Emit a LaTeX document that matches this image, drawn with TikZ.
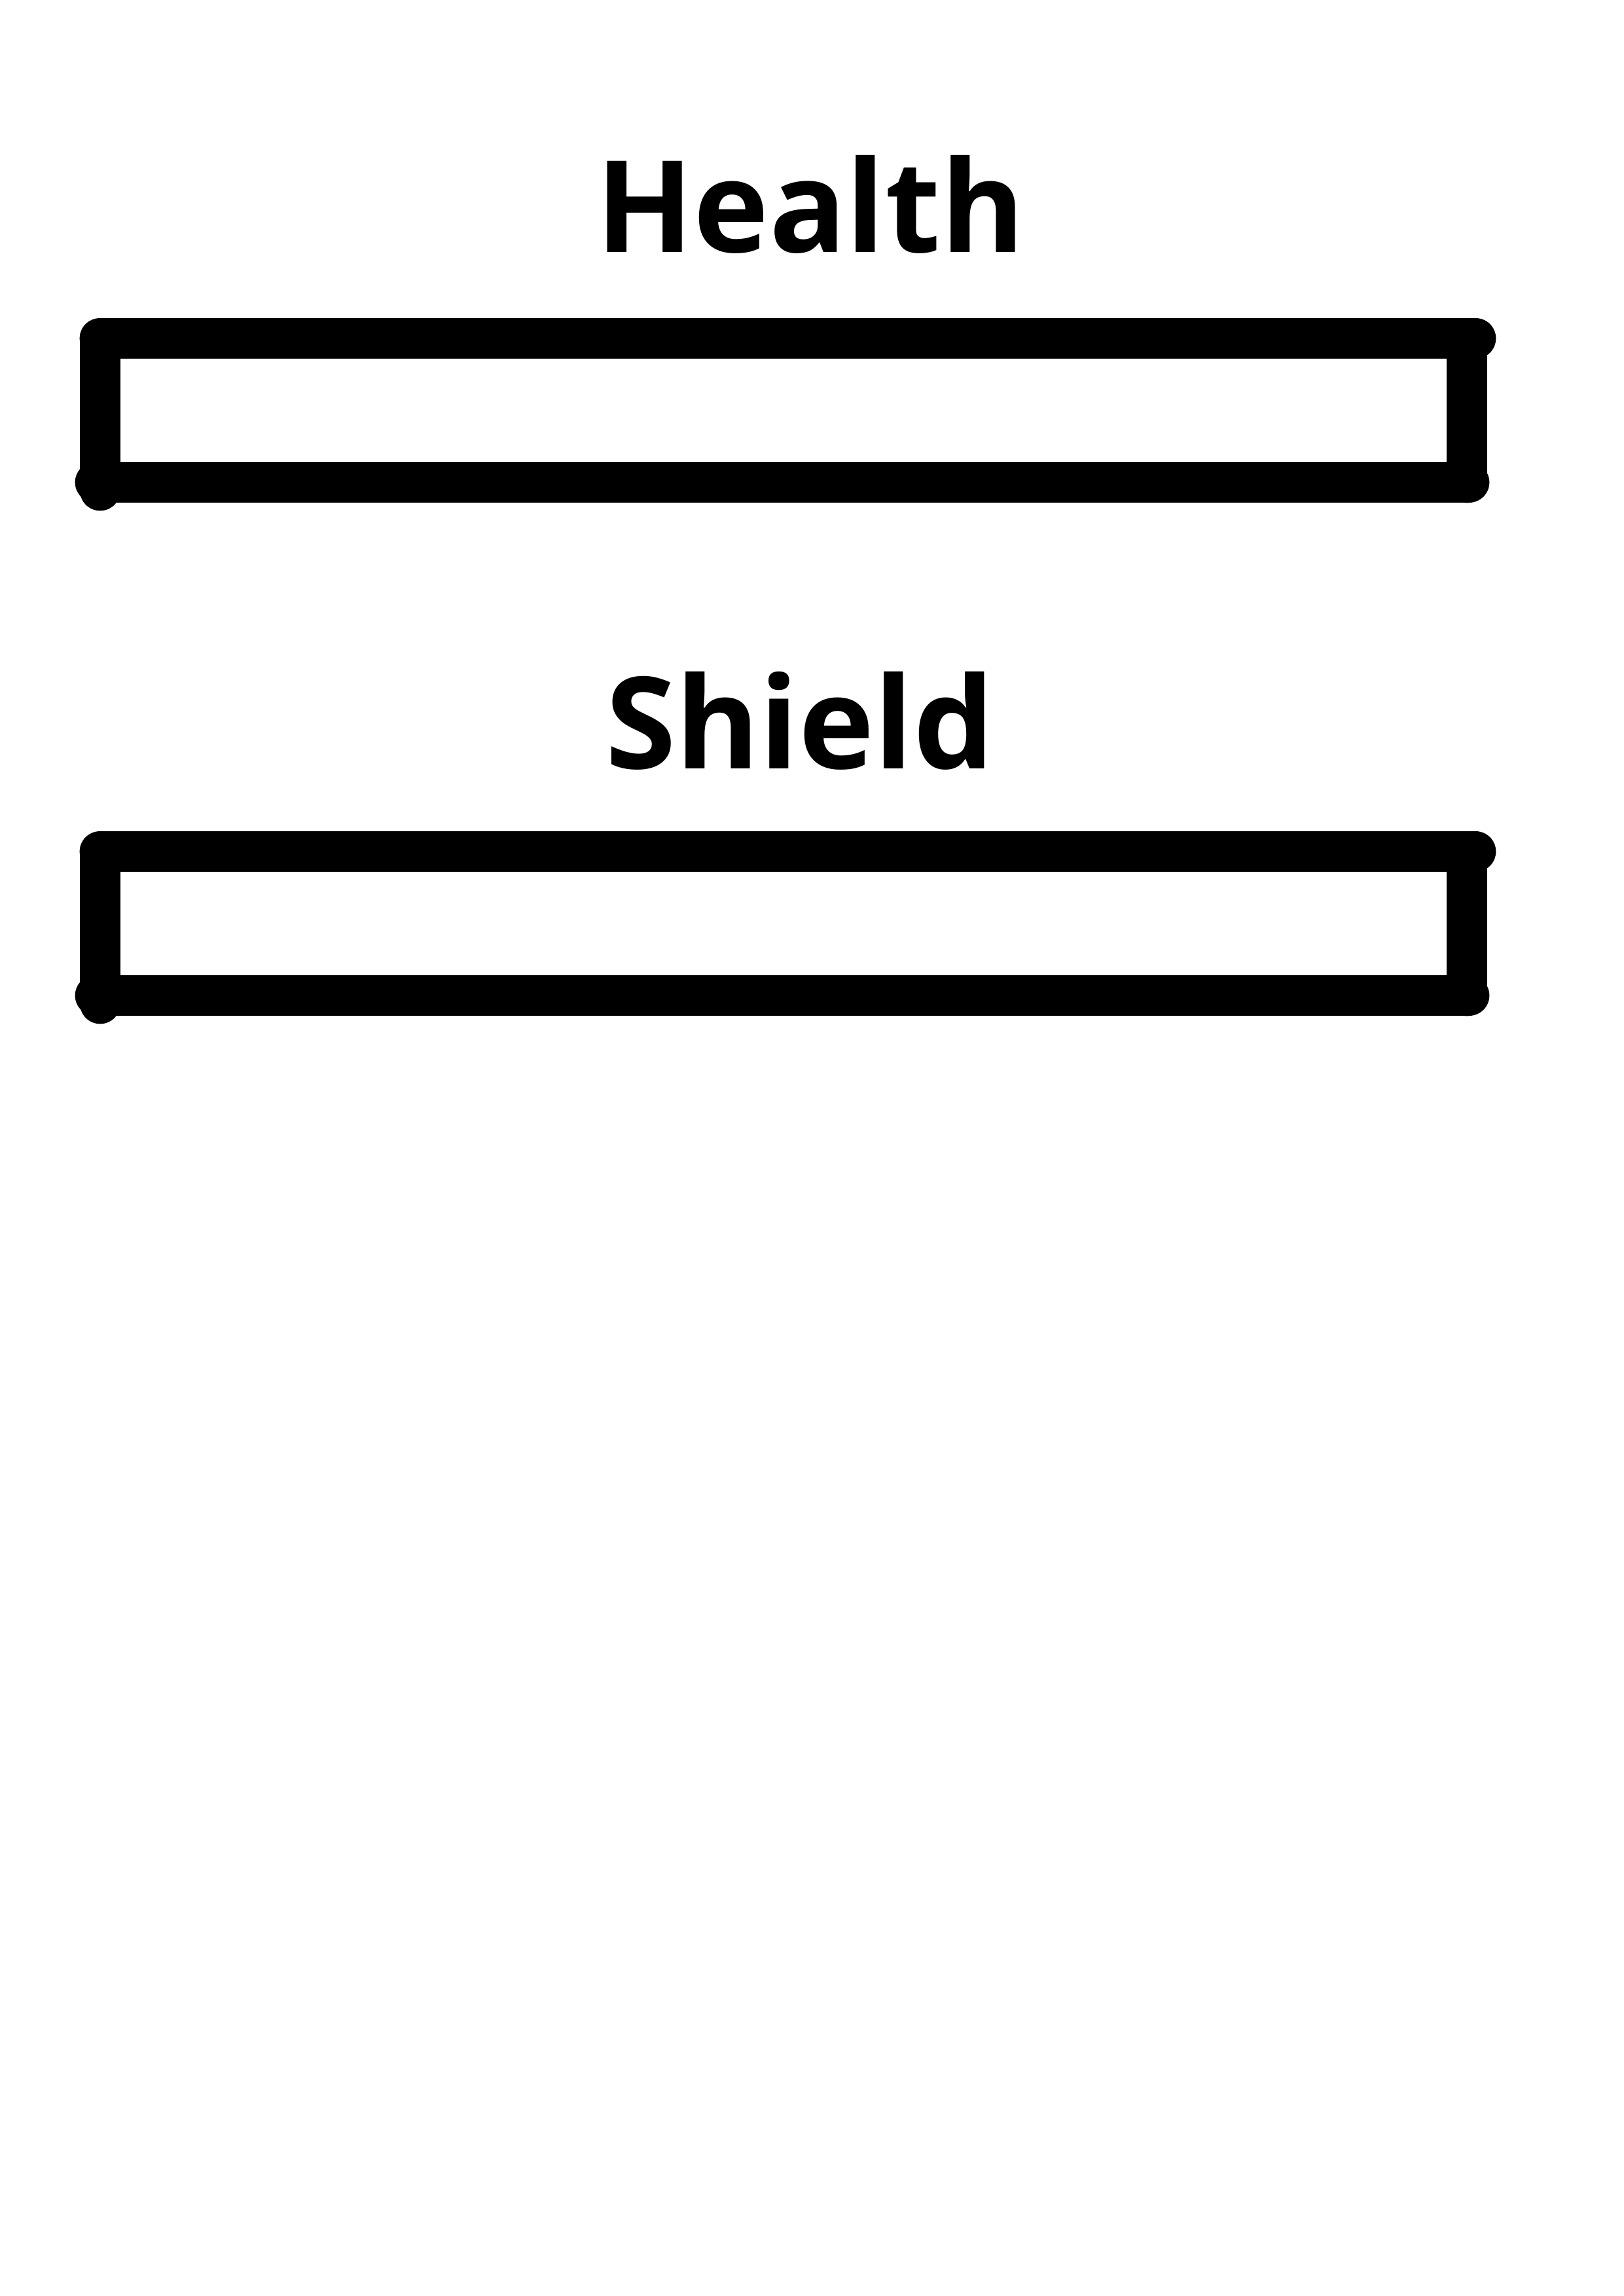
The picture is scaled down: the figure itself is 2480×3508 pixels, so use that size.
\documentclass[tikz,border=0pt]{standalone}
\usepackage{fontspec}
\setmainfont{Open Sans}
\usetikzlibrary{calc}

\tikzset{
  barline/.style={line width=15.1pt, line cap=round},
  barlabel/.style={anchor=base, inner sep=0pt, font=\fontsize{47}{50}\selectfont\bfseries}
}

\begin{document}
\begin{tikzpicture}[x=0.0084677cm, y=-0.0084677cm]
    \useasboundingbox (0,0) rectangle (2480,3508);
    % health
    \node[barlabel](health)at(1238,385){Health};
    \path[draw, barline](153,517)to(2254,517);
    \path[draw, barline](153,522)to(153,749);
    \path[draw, barline](146,737)to(2244,737);
    \path[draw, barline](2241,522)to(2241,737);
    % shield
    \node[barlabel](shield)at(1222,1174){Shield};
    \path[draw, barline](153,1301)to(2254,1301);
    \path[draw, barline](153,1306)to(153,1533);
    \path[draw, barline](146,1521)to(2244,1521);
    \path[draw, barline](2241,1306)to(2241,1521);
\end{tikzpicture}
\end{document}
